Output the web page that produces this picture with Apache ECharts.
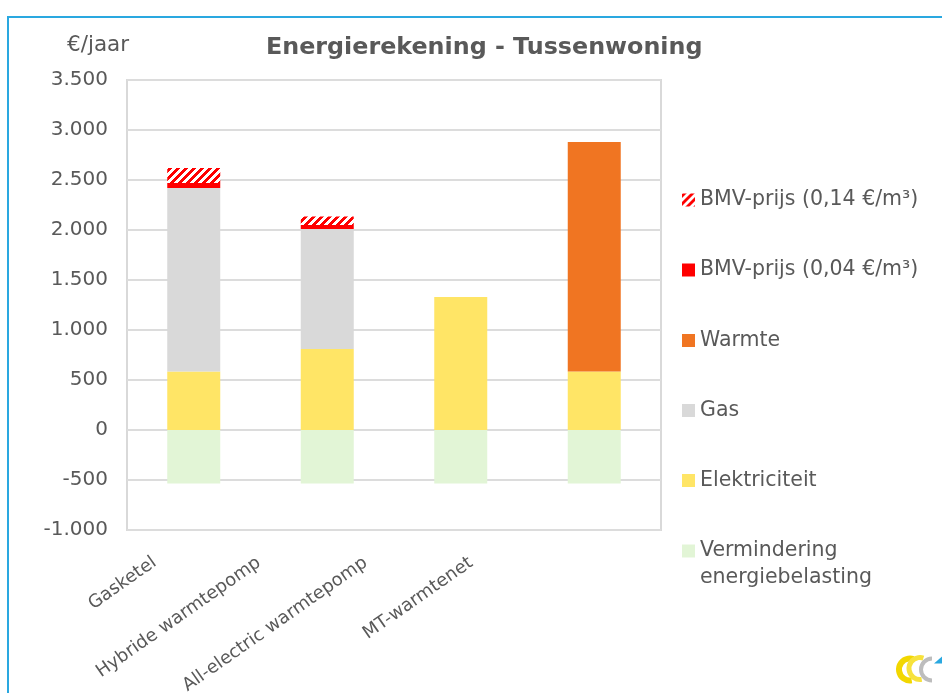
<!DOCTYPE html>
<html>
<head>
<meta charset="utf-8">
<script src="https://cdn.jsdelivr.net/npm/echarts@6/dist/echarts.min.js"></script>
<style>
  html, body { margin: 0; padding: 0; background: #fff; }
  #chart { width: 942px; height: 693px; }
</style>
</head>
<body>
<div id="chart"></div>
<script>
// energierekening per woningtype (EUR/jaar)
const categories = ['Gasketel', 'Hybride warmtepomp', 'All-electric warmtepomp', 'MT-warmtenet']
const vermindering = [-535, -535, -535, -535]
const elektriciteit = [585, 810, 1330, 585]
const gas = [1835, 1200, null, null]
const warmte = [null, null, null, 2295]
const bmvLaag = [50, 40, null, null]
const bmvHoog = [150, 85, null, null]
const yTicks = { min: -1000, max: 3500, step: 500 }

// horizontale verschuiving van de gedraaide labels (px)
const labelShift = [39, 68, 95, 123]

const FONT = 'DejaVu Sans'
const GREY_TEXT = '#595959'
const ROT = 35

// rood gestreept patroon voor BMV 0,14
function hatch () {
  const c = document.createElement('canvas')
  c.width = 8
  c.height = 8
  const ctx = c.getContext('2d')
  ctx.fillStyle = '#fff'
  ctx.fillRect(0, 0, 8, 8)
  ctx.fillStyle = '#ff0000'
  for (let x = 0; x < 8; x++) {
    for (let y = 0; y < 8; y++) {
      if ((x + y) % 8 < 4) ctx.fillRect(x, y, 1, 1)
    }
  }
  return { image: c, repeat: 'repeat' }
}

const names = {
  hoog: 'BMV-prijs (0,14 €/m³)',
  laag: 'BMV-prijs (0,04 €/m³)',
  warmte: 'Warmte',
  gas: 'Gas',
  elek: 'Elektriciteit',
  verm: 'Vermindering energiebelasting'
}

const rich = {}
const rad = ROT * Math.PI / 180
labelShift.forEach((d, i) => {
  rich['l' + i] = {
    fontFamily: FONT,
    fontSize: 18,
    color: GREY_TEXT,
    padding: [0, Math.round(d * Math.cos(rad)), Math.round(2 * d * Math.sin(rad)), 0]
  }
})

const legendText = { fontFamily: FONT, fontSize: 20.5, color: GREY_TEXT, lineHeight: 24 }

function legendItem (name, yc, extra) {
  return Object.assign({
    data: [name],
    left: 682,
    top: yc - 12,
    orient: 'vertical',
    icon: 'rect',
    itemWidth: 13,
    itemHeight: 13,
    selectedMode: false,
    padding: 0,
    textStyle: legendText
  }, extra || {})
}

function bar (name, data, color) {
  return {
    name,
    type: 'bar',
    stack: 'totaal',
    data,
    barWidth: 53,
    itemStyle: { color },
    emphasis: { disabled: true }
  }
}

const option = {
  animation: false,
  title: {
    text: 'Energierekening - Tussenwoning',
    left: 266,
    top: 36,
    padding: 0,
    textStyle: { fontFamily: FONT, fontSize: 23.8, fontWeight: 'bold', color: GREY_TEXT }
  },
  legend: [
    legendItem(names.hoog, 200),
    legendItem(names.laag, 270),
    legendItem(names.warmte, 340.5),
    legendItem(names.gas, 410.5),
    legendItem(names.elek, 480.5),
    // lege eerste regel zodat het icoon bij "Vermindering" staat
    legendItem(names.verm, 551 - 28.5, {
      formatter: () => ' \nVermindering\nenergiebelasting',
      textStyle: Object.assign({}, legendText, { lineHeight: 27 })
    })
  ],
  grid: {
    left: 127,
    right: 281,
    top: 80,
    bottom: 163,
    outerBoundsMode: 'none',
    containLabel: false,
    show: true,
    borderColor: '#d9d9d9',
    borderWidth: 2
  },
  xAxis: {
    type: 'category',
    data: categories,
    axisLine: { show: false },
    axisTick: { show: false },
    axisLabel: {
      rotate: ROT,
      margin: 31,
      interval: 0,
      formatter: (v, i) => '{l' + i + '|' + v + '}',
      rich
    }
  },
  yAxis: {
    type: 'value',
    min: yTicks.min,
    max: yTicks.max,
    interval: yTicks.step,
    axisLine: { show: false },
    axisTick: { show: false },
    splitLine: { lineStyle: { color: '#dcdcdc', width: 2 } },
    axisLabel: {
      margin: 19,
      fontFamily: FONT,
      fontSize: 20,
      color: GREY_TEXT,
      formatter: v => {
        const s = Math.abs(v).toString().replace(/\B(?=(\d{3})+(?!\d))/g, '.')
        return (v < 0 ? '-' : '') + s
      }
    }
  },
  series: [
    bar(names.verm, vermindering, '#e2f5d6'),
    bar(names.elek, elektriciteit, '#ffe566'),
    bar(names.gas, gas, '#d9d9d9'),
    bar(names.warmte, warmte, '#f07522'),
    bar(names.laag, bmvLaag, '#ff0000'),
    bar(names.hoog, bmvHoog, hatch())
  ],
  graphic: [
    {
      type: 'rect',
      shape: { x: 8, y: 17, width: 1200, height: 1200 },
      style: { fill: 'none', stroke: '#2aa8e0', lineWidth: 2 },
      silent: true
    },
    {
      type: 'text',
      left: 67,
      top: 34,
      style: { text: '€/jaar', fontFamily: FONT, fontSize: 21.5, fill: GREY_TEXT }
    },
    // logo rechtsonder
    {
      type: 'group',
      left: 896,
      top: 655,
      silent: true,
      children: [
        { type: 'arc', shape: { cx: 14, cy: 18, r: 11, startAngle: Math.PI * 0.45, endAngle: Math.PI * 1.6 }, style: { stroke: '#f2d700', lineWidth: 6, fill: 'none' } },
        { type: 'arc', shape: { cx: 24, cy: 17, r: 11, startAngle: Math.PI * 0.45, endAngle: Math.PI * 1.6 }, style: { stroke: '#f7e23c', lineWidth: 5, fill: 'none' } },
        { type: 'arc', shape: { cx: 36, cy: 18, r: 11, startAngle: Math.PI * 0.5, endAngle: Math.PI * 1.5 }, style: { stroke: '#bdbdbd', lineWidth: 4, fill: 'none' } },
        { type: 'polygon', shape: { points: [[38, 12], [47, 4], [47, 12]] }, style: { fill: '#2aa8e0' } }
      ]
    }
  ]
}

const myChart = echarts.init(document.getElementById('chart'))
myChart.setOption(option)
</script>
</body>
</html>
